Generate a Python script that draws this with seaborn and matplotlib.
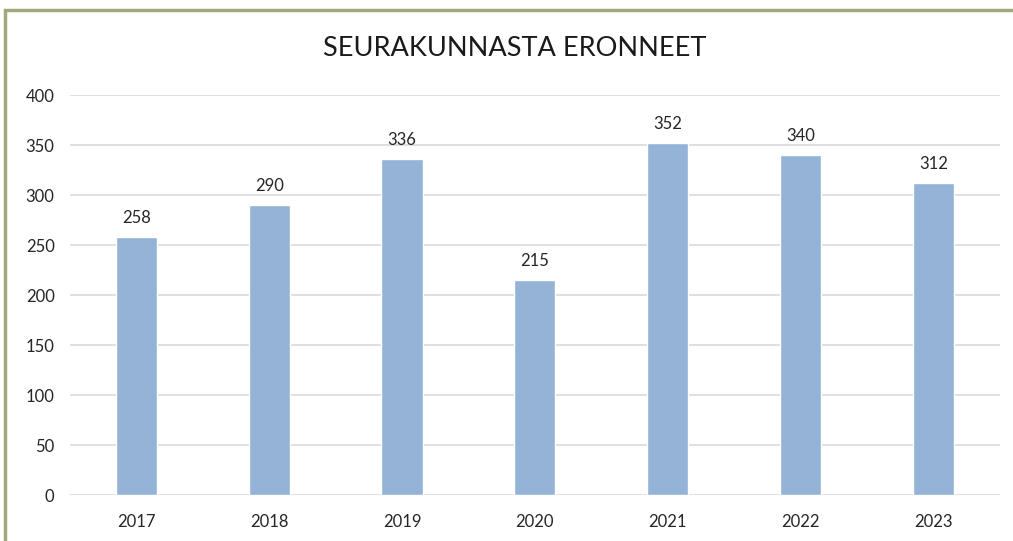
import matplotlib
matplotlib.use("Agg")
import matplotlib.pyplot as plt
import seaborn as sns
import pandas as pd
from matplotlib.patches import Rectangle

# chart data
years = ["2017", "2018", "2019", "2020", "2021", "2022", "2023"]
eronneet = [258, 290, 336, 215, 352, 340, 312]
y_ticks = [0, 50, 100, 150, 200, 250, 300, 350, 400]

df = pd.DataFrame({"vuosi": years, "eronneet": eronneet})

sns.set_style("white")
plt.rcParams["font.family"] = ["Lato", "DejaVu Sans"]

fig = plt.figure(figsize=(10.13, 5.41), dpi=100)
ax = fig.add_axes([0.069, 0.085, 0.918, 0.739])

sns.barplot(data=df, x="vuosi", y="eronneet", color="#95b3d7",
            saturation=1, width=0.31, ax=ax, zorder=3)

# value labels above bars
for i, v in enumerate(eronneet):
    ax.text(i, v + 11, str(v), ha="center", va="bottom", fontsize=12, color="#262626")

ax.set_ylim(0, 400)
ax.set_yticks(y_ticks)
ax.set_yticklabels([str(t) for t in y_ticks], fontsize=12, color="#262626")
ax.tick_params(axis="x", labelsize=12, colors="#262626", length=0, pad=14)
ax.tick_params(axis="y", length=0, pad=11)
ax.yaxis.grid(True, color="#d9d9d9", linewidth=1.2, zorder=0)
ax.set_axisbelow(True)
ax.set_xlabel("")
ax.set_ylabel("")
for s in ax.spines.values():
    s.set_visible(False)

fig.text(0.508, 0.91, "SEURAKUNNASTA ERONNEET", ha="center", va="center",
         fontsize=19.5, color="#1a1a1a")

# olive frame (top and left visible)
fig.patches.append(Rectangle((0.005, -0.1), 1.2, 0.081 + 0.1 + 0.9, transform=fig.transFigure,
                             fill=False, edgecolor="#a3a87c", linewidth=2.5, zorder=10))

fig.savefig("out.png", dpi=100)
